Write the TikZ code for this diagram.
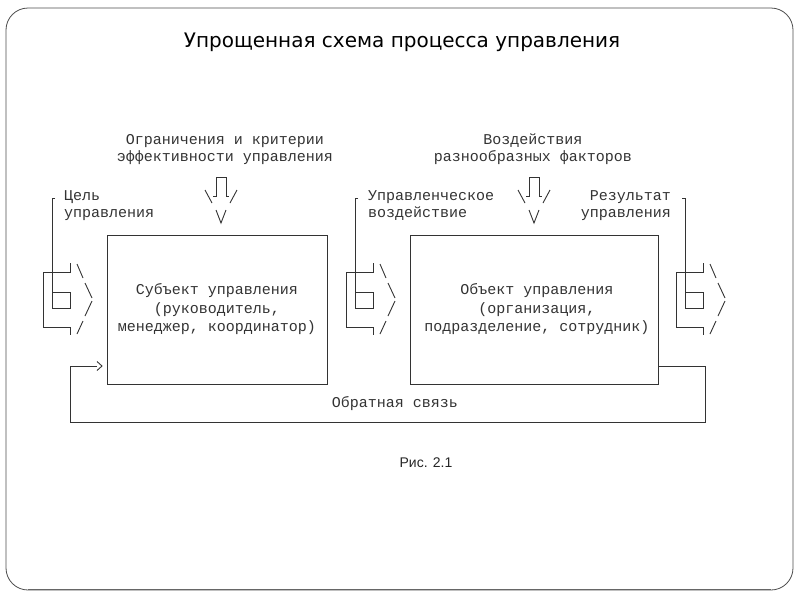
\documentclass[tikz,border=0pt]{standalone}
\usepackage{fontspec}
\setmainfont{Liberation Sans}
\newfontfamily\monofont{Liberation Mono}
\newfontfamily\titlefont{DejaVu Sans}
\usetikzlibrary{calc}
\begin{document}
\begin{tikzpicture}[x=1pt,y=-1pt,
  ln/.style={line width=0.9pt, draw=black!80},
  mono/.style={font=\monofont\fontsize{15}{17}\selectfont, inner sep=0pt, text=black!80},
  boxtext/.style={font=\monofont\fontsize{15}{18.5}\selectfont, text=black!80, align=center},
  box/.style={ln, inner sep=0pt},
  pics/downarr/.style={code={
    \draw[ln] (-8,19)--(-5,19)--(-5,0)--(5,0)--(5,19)--(8,19);
    \draw[ln] (-16,13)--(-9,26) (-5,33)--(0,46)--(5,33) (9,26)--(16,13);
  }},
  pics/rightarr/.style={code={
    \draw[ln] (27,-9)--(27,0)--(0,0)--(0,55)--(27,55)--(27,63);
    \draw[ln] (34,-8)--(40,6) (42,11)--(49,26) (49,29)--(42,44) (40,49)--(34,62);
  }}
]
\useasboundingbox (0,0) rectangle (800,600);
% outer frame
\draw[line width=0.8pt, black!70, rounded corners=22pt] (6,8) rectangle (793,590);
\draw[line width=1.2pt, black!60] (28,589.5) -- (771,589.5);

% title
\node[font=\titlefont\fontsize{20}{22}\selectfont, inner sep=0pt] (title) at (402,42) {Упрощенная схема процесса управления};

% top texts
\node[mono, align=center] (constr) at (225,149.5) {Ограничения и критерии\\эффективности управления};
\node[mono, align=center] (factors) at (533,149.5) {Воздействия\\разнообразных факторов};

% labels
\node[mono, align=left, anchor=west] (goal) at (64,205.5) {Цель\\управления};
\node[mono, align=left, anchor=west] (action) at (368,205.5) {Управленческое\\воздействие};
\node[mono, align=right, anchor=east] (result) at (671,205.5) {Результат\\управления};

% boxes
\node[box, minimum width=220pt, minimum height=149pt] (subj) at (217,309.5) {};
\node[boxtext] (subjtext) at (subj.center) {Субъект управления\\(руководитель,\\менеджер, координатор)};
\node[box, minimum width=248pt, minimum height=149pt] (obj) at (534,309.5) {};
\node[boxtext] (objtext) at (537,309.5) {Объект управления\\(организация,\\подразделение, сотрудник)};

% down arrows
\pic at (221,177) {downarr};
\pic at (534,177) {downarr};

% right arrows
\pic at (43,272) {rightarr};
\pic at (346,272) {rightarr};
\pic at (676,272) {rightarr};

% label brackets into arrows
\coordinate (g1) at (52,198);
\coordinate (g2) at (355,198);
\coordinate (g3) at (685,198);
\draw[ln] ($(g1)+(3,0)$) -- (g1) -- ++(0,110) -- ++(18,0) -- ++(0,-16) -- ++(-18,0);
\draw[ln] ($(g2)+(3,0)$) -- (g2) -- ++(0,110) -- ++(18,0) -- ++(0,-16) -- ++(-18,0);
\draw[ln] ($(g3)+(-3,0)$) -- (g3) -- ++(0,110) -- ++(18,0) -- ++(0,-16) -- ++(-18,0);

% feedback loop
\coordinate (fbin) at (97,366);
\draw[ln] (obj.east |- 0,366) -- (705,366) -- (705,422) -- (70,422) -- (70,366) -- (fbin);
\draw[ln] ($(fbin)+(0,-4.5)$) -- ($(fbin)+(5,0)$) -- ($(fbin)+(0,4.5)$);
\node[mono] (fb) at (395,404) {Обратная связь};

% caption
\node[font=\fontsize{14}{16}\selectfont, inner sep=0pt, text=black!85] (cap) at (426,463) {Рис. 2.1};
\end{tikzpicture}
\end{document}
